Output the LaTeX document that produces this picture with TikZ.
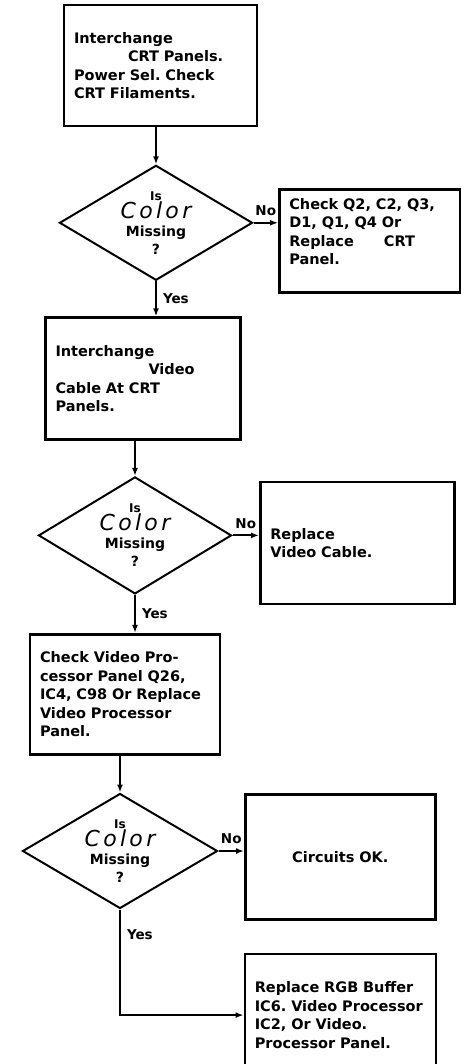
\documentclass[tikz,border=0pt]{standalone}
\usepackage{fontspec}
\setmainfont{DejaVu Sans}
\newfontfamily\colorfont[LetterSpace=15]{DejaVu Sans}
\usepackage{tikz}
\usetikzlibrary{shapes, arrows.meta, positioning}

\newcommand{\colormissing}{{\fontsize{12}{18}\selectfont Is}\\ {\colorfont\mdseries\itshape\fontsize{22}{18}\selectfont Color}\\ Missing\\ ?}

\begin{document}
\frenchspacing
\begin{tikzpicture}[->, >={Latex[length=8pt, width=6pt]}, auto, line width=2pt, x=1pt, y=1pt]
\tikzstyle{action}=[draw, rectangle, line width=2.6pt, inner xsep=10pt, align=left, font=\fontsize{14.5}{18.5}\selectfont\bfseries]
\tikzstyle{decision}=[draw, diamond, aspect=1.68, inner sep=0pt, line width=2pt, minimum width=193pt, minimum height=115pt, align=center, font=\fontsize{14}{18}\selectfont\bfseries]
\tikzstyle{lbl}=[font=\fontsize{13.5}{16}\selectfont\bfseries, inner sep=6pt]
\useasboundingbox (0,0) rectangle (460,-1064);

\node[action, minimum width=193pt, text width=173pt, minimum height=121pt]	(box1) at (160.5,-65.5)	{Interchange\\ \hspace*{54pt}CRT Panels.\\ Power Sel. Check\\ CRT Filaments.};
\node[decision]		(dia1) [below=37pt of box1, xshift=-4.5pt]	{\colormissing};
\node[action, minimum width=181pt, text width=161pt, minimum height=103pt]	(rbox1) [right=24.5pt of dia1, yshift=-18pt]	{Check Q2, C2, Q3,\\ D1, Q1, Q4 Or\\ Replace\hspace{30pt}CRT\\ Panel.\\ \mbox{}};

\node[action, minimum width=195pt, text width=175pt, minimum height=122pt]	(box2) [below=35pt of dia1, xshift=-13pt]	{Interchange\\ \hspace*{93pt}Video\\ Cable At CRT\\ Panels.};
\node[decision, minimum height=117pt]		(dia2) [below=35pt of box2, xshift=-8pt]	{\colormissing};
\node[action, minimum width=194pt, text width=174pt, minimum height=122pt]	(rbox2) [right=26.5pt of dia2, yshift=-7.5pt]	{Replace\\ Video Cable.};

\node[action, minimum width=190pt, text width=170pt, minimum height=120pt]	(box3) [below=38pt of dia2, xshift=-10pt]	{Check Video Pro-\\ cessor Panel Q26,\\ IC4, C98 Or Replace\\ Video Processor\\ Panel.};
\node[decision, minimum width=195pt]		(dia3) [below=37pt of box3, xshift=-5pt]	{\colormissing};
\node[action, minimum width=190pt, text width=170pt, minimum height=125pt, align=center]	(rbox3) [right=25.5pt of dia3, yshift=-6pt]	{Circuits OK.};
\node[action, minimum width=191pt, text width=171pt, minimum height=122pt]	(box4) [below=32pt of rbox3]	{Replace RGB Buffer\\ IC6. Video Processor\\ IC2, Or Video.\\ Processor Panel.};

\path
(dia1.north |- box1.south) edge 	(dia1.north)
(dia1.east) edge 	node[lbl]{No}	(dia1.east -| rbox1.west)
(dia1.south) edge 	node[lbl]{Yes}	(dia1.south |- box2.north)

(dia2.north |- box2.south) edge 	(dia2.north)
(dia2.east) edge 	node[lbl]{No}	(dia2.east -| rbox2.west)
(dia2.south) edge 	node[lbl]{Yes}	(dia2.south |- box3.north)

(dia3.north |- box3.south) edge 	(dia3.north)
(dia3.east) edge 	node[lbl]{No}	(dia3.east -| rbox3.west);

\draw (dia3.south) |- node[lbl, pos=0.12]{Yes} (box4.west);

\end{tikzpicture}
\end{document}
